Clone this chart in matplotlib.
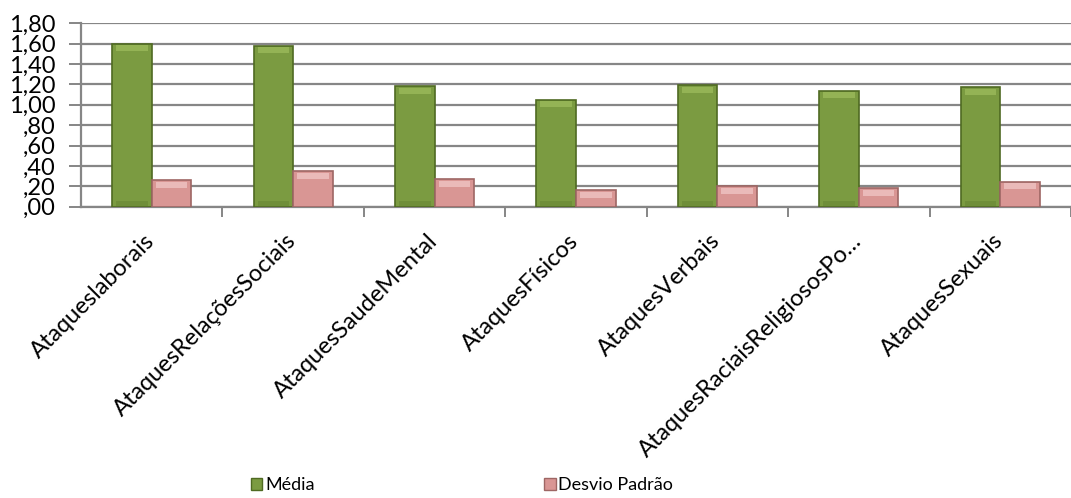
import numpy as np
import matplotlib
matplotlib.use("Agg")
import matplotlib.pyplot as plt
from matplotlib.patches import Patch
from matplotlib.ticker import FuncFormatter
from matplotlib.transforms import ScaledTranslation

categorias = ['Ataqueslaborais', 'AtaquesRelaçõesSociais', 'AtaquesSaudeMental',
              'AtaquesFísicos', 'AtaquesVerbais', 'AtaquesRaciaisReligiososPo…',
              'AtaquesSexuais']
media = [1.60, 1.58, 1.18, 1.05, 1.19, 1.14, 1.17]
desvio = [0.26, 0.35, 0.27, 0.16, 0.20, 0.18, 0.245]
yticks = [0, 0.2, 0.4, 0.6, 0.8, 1.0, 1.2, 1.4, 1.6, 1.8]

plt.rcParams['font.family'] = ['Lato', 'DejaVu Sans']

fig = plt.figure(figsize=(10.71, 4.98), dpi=100)
ax = fig.add_axes([81/1071, 1-206.7/498, 1-81/1071, (206.7-23.3)/498])

x = np.arange(len(categorias))
w = 0.28
verde, verde_esc, verde_cl = '#7B9B41', '#4F6A22', '#B3D16E'
rosa, rosa_esc, rosa_cl = '#D99694', '#9E6664', '#F7D3D2'

ax.bar(x - w/2, media, w, color=verde, edgecolor=verde_esc, linewidth=1.2, zorder=3)
ax.bar(x + w/2, desvio, w, color=rosa, edgecolor=rosa_esc, linewidth=1.2, zorder=3)
# faixa clara no topo e escura na base (efeito bisel)
strip = 0.06
ax.bar(x - w/2, [strip]*len(x), w*0.8, bottom=np.array(media) - strip - 0.015,
       color=verde_cl, alpha=0.45, linewidth=0, zorder=4)
ax.bar(x + w/2, [strip]*len(x), w*0.8, bottom=np.array(desvio) - strip - 0.015,
       color=rosa_cl, alpha=0.6, linewidth=0, zorder=4)
ax.bar(x - w/2, [0.05]*len(x), w*0.8, bottom=0.01,
       color=verde_esc, alpha=0.25, linewidth=0, zorder=4)

ax.set_ylim(0, 1.8)
ax.set_xlim(-0.5, -0.5 + 990/143.2)
ax.set_yticks(yticks)
ax.yaxis.set_major_formatter(FuncFormatter(
    lambda v, p: ('%.2f' % v).replace('.', ',').lstrip('0') if v < 1 else ('%.2f' % v).replace('.', ',')))
ax.grid(axis='y', color='#868686', linewidth=1.6, zorder=0)
ax.set_axisbelow(True)

for s in ['top', 'right']:
    ax.spines[s].set_visible(False)
ax.spines['left'].set_color('#868686')
ax.spines['bottom'].set_color('#868686')
ax.spines['left'].set_linewidth(1.6)
ax.spines['bottom'].set_linewidth(1.6)

ax.tick_params(axis='y', length=9, width=1.4, color='#868686', labelsize=17, pad=9)
ax.set_xticks(x)
ax.set_xticklabels(categorias, rotation=45, ha='right', rotation_mode='anchor', fontsize=17)
ax.tick_params(axis='x', which='major', length=0, pad=14)
desloc = ScaledTranslation(-0.08, -0.04, fig.dpi_scale_trans)
for lab in ax.get_xticklabels():
    lab.set_transform(lab.get_transform() + desloc)
ax.set_xticks(np.arange(len(categorias)) + 0.5, minor=True)
ax.tick_params(axis='x', which='minor', length=7, width=1.4, color='#868686')

handles = [Patch(facecolor=verde, edgecolor=verde_esc, label='Média'),
           Patch(facecolor=rosa, edgecolor=rosa_esc, label='Desvio Padrão')]
fig.legend(handles=handles, loc='center', ncol=2, frameon=False, fontsize=13,
           bbox_to_anchor=(462/1071, 1-485/498), handlelength=0.65, handleheight=0.65,
           handletextpad=0.15, columnspacing=12.7)

fig.savefig('out.png', dpi=100)
